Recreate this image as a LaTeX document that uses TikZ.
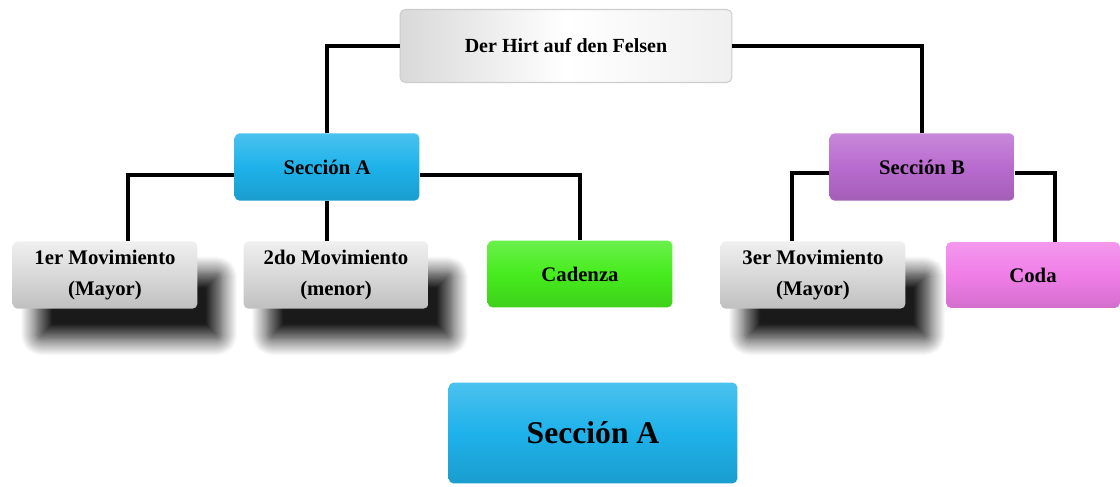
\documentclass[tikz,border=0pt]{standalone}
\usepackage{fontspec}
\setmainfont{Liberation Serif}
\usepackage{tikz}
\usetikzlibrary{positioning, shadows.blur}

\definecolor{secablue}{HTML}{1EB2EA}
\definecolor{cadgreen}{HTML}{46EC1E}
\definecolor{secbpurple}{HTML}{B96BCF}
\definecolor{codapink}{HTML}{F07EE8}

\tikzset{
  box/.style={rounded corners=3pt, minimum width=3.7cm, minimum height=1.35cm,
    align=center, font=\bfseries\fontsize{11.8}{17.6}\selectfont},
  graybox/.style={box, top color=gray!12, bottom color=gray!50, middle color=gray!30,
    blur shadow={shadow xshift=0.48cm, shadow yshift=-0.62cm, shadow opacity=90,
      shadow blur radius=0.32cm, shadow blur steps=16}},
  colbox/.style={box, top color=#1!80!white, bottom color=#1!88!black, middle color=#1},
  link/.style={line width=2.3pt, black},
}

\begin{document}
\begin{tikzpicture}[x=0.02cm, y=-0.02cm]
\useasboundingbox (0,0) rectangle (1120,487);

% title
\node[box, minimum width=6.64cm, minimum height=1.46cm, left color=gray!30,
  right color=gray!12, middle color=white, draw=gray!40, line width=0.6pt,
  font=\bfseries\fontsize{11.4}{14}\selectfont] (Hirt) at (566,46) {Der Hirt auf den Felsen};

% sections
\node[colbox=secablue] (SecA) at (327,167) {Secci\'on A};
\node[colbox=secbpurple] (SecB) at (922,167) {Secci\'on B};

% parts
\node[graybox] (Mov1) at (105,275) {1er Movimiento\\(Mayor)};
\node[graybox] (Mov2) at (336,275) {2do Movimiento\\(menor)};
\node[colbox=cadgreen, minimum height=1.34cm] (Cad) at (580,274) {Cadenza};
\node[graybox] (Mov3) at (813,275) {3er Movimiento\\(Mayor)};
\node[colbox=codapink, minimum width=3.48cm, minimum height=1.32cm] (Coda) at (1033,275) {Coda};

% legend box
\node[colbox=secablue, minimum width=5.78cm, minimum height=2.02cm,
  font=\bfseries\fontsize{18}{20}\selectfont] (Leyenda) at (593,433) {Secci\'on A};

\draw[link] (Hirt.west) -| (SecA.north);
\draw[link] (Hirt.east) -| (SecB.north);
\draw[link] ([yshift=-0.16cm]SecA.west) -| ([xshift=0.46cm]Mov1.north);
\draw[link] (SecA.south) -- (SecA.south |- Mov2.north);
\draw[link] ([yshift=-0.16cm]SecA.east) -| (Cad.north);
\draw[link] ([yshift=-0.12cm]SecB.west) -| ([xshift=-0.42cm]Mov3.north);
\draw[link] ([yshift=-0.12cm]SecB.east) -| ([xshift=0.44cm]Coda.north);
\end{tikzpicture}
\end{document}
